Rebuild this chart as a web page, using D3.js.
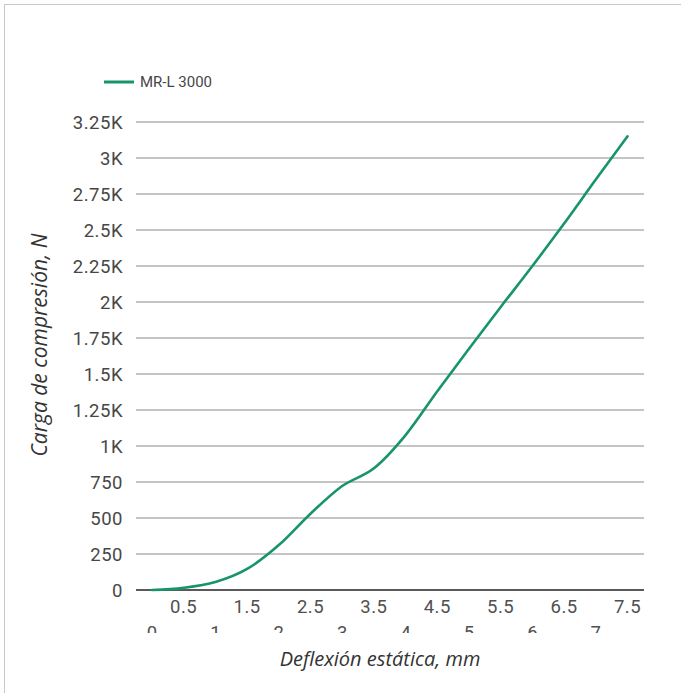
<!DOCTYPE html>
<html>
<head>
<meta charset="utf-8">
<script src="https://cdn.jsdelivr.net/npm/d3@7"></script>
<style>
  body { margin: 0; background: #fff; }
  svg { display: block; }
</style>
</head>
<body>
<svg width="681" height="693"></svg>
<script>
// data
var deflexion = [0, 0.5, 1, 1.5, 2, 2.5, 3, 3.5, 4, 4.5, 5, 5.5, 6, 6.5, 7, 7.5];
var carga = [0, 15, 55, 146, 312, 530, 722, 845, 1076, 1380, 1675, 1965, 2250, 2545, 2850, 3150];
var yTicks = [0, 250, 500, 750, 1000, 1250, 1500, 1750, 2000, 2250, 2500, 2750, 3000, 3250];
var xHalfTicks = [0.5, 1.5, 2.5, 3.5, 4.5, 5.5, 6.5, 7.5];
var xIntTicks = [0, 1, 2, 3, 4, 5, 6, 7];
var serie = "MR-L 3000";

var svg = d3.select("svg");
var green = "#17946b";

svg.append("rect")
    .attr("x", 4.5)
    .attr("y", 4.5)
    .attr("width", 720)
    .attr("height", 720)
    .style("fill", "none")
    .style("stroke", "#c8c8c8");

var x = d3.scaleLinear().domain([0, 7.5]).range([152, 627.5]);
var y = d3.scaleLinear().domain([0, 3250]).range([590, 122]);
var gridLeft = 136, gridRight = 644;

function fmt(v) {
    if (v >= 1000) return (v / 1000) + "K";
    return v;
}

// gridlines
svg.selectAll(".grid")
    .data(yTicks)
    .enter().append("line")
    .attr("class", "grid")
    .attr("x1", gridLeft)
    .attr("x2", gridRight)
    .attr("y1", function(d) { return y(d); })
    .attr("y2", function(d) { return y(d); })
    .style("stroke", function(d) { return d === 0 ? "#5a5a5a" : "#b0b0b0"; })
    .style("stroke-width", function(d) { return d === 0 ? 2 : 1.6; });

// y labels
svg.selectAll(".ylab")
    .data(yTicks)
    .enter().append("text")
    .attr("class", "ylab")
    .attr("x", 123)
    .attr("y", function(d) { return y(d); })
    .attr("dy", "0.36em")
    .attr("text-anchor", "end")
    .style("font-family", "Roboto, sans-serif")
    .style("font-size", "18.5px")
    .style("letter-spacing", "0.5px")
    .style("fill", "#474747")
    .text(fmt);

// x labels, half values
svg.selectAll(".xhalf")
    .data(xHalfTicks)
    .enter().append("text")
    .attr("class", "xhalf")
    .attr("x", function(d) { return x(d); })
    .attr("y", 613)
    .attr("text-anchor", "middle")
    .style("font-family", "Roboto, sans-serif")
    .style("font-size", "18.5px")
    .style("letter-spacing", "0.5px")
    .style("fill", "#505050")
    .text(function(d) { return d; });

// x labels, integers (cut off at the bottom like the original)
svg.append("clipPath")
    .attr("id", "cut")
    .append("rect")
    .attr("x", 0)
    .attr("y", 0)
    .attr("width", 681)
    .attr("height", 633);

svg.append("g")
    .attr("clip-path", "url(#cut)")
    .selectAll(".xint")
    .data(xIntTicks)
    .enter().append("text")
    .attr("class", "xint")
    .attr("x", function(d) { return x(d); })
    .attr("y", 639)
    .attr("text-anchor", "middle")
    .style("font-family", "Roboto, sans-serif")
    .style("font-size", "18.5px")
    .style("fill", "#505050")
    .text(function(d) { return d; });

// the curve
var line = d3.line()
    .x(function(d, i) { return x(deflexion[i]); })
    .y(function(d) { return y(d); })
    .curve(d3.curveMonotoneX);

svg.append("path")
    .datum(carga)
    .attr("d", line)
    .style("fill", "none")
    .style("stroke", green)
    .style("stroke-width", 2.6)
    .style("stroke-linejoin", "round")
    .style("stroke-linecap", "round");

// legend
svg.append("line")
    .attr("x1", 104)
    .attr("x2", 134)
    .attr("y1", 82)
    .attr("y2", 82)
    .style("stroke", green)
    .style("stroke-width", 3);

svg.append("text")
    .attr("x", 140)
    .attr("y", 82)
    .attr("dy", "0.36em")
    .style("font-family", "Roboto, sans-serif")
    .style("font-size", "15px")
    .style("fill", "#474747")
    .text(serie);

// axis titles
svg.append("text")
    .attr("x", 380)
    .attr("y", 666)
    .attr("text-anchor", "middle")
    .style("font-family", "'Open Sans', sans-serif")
    .style("font-style", "italic")
    .style("font-size", "20px")
    .style("fill", "#333")
    .text("Deflexión estática, mm");

svg.append("text")
    .attr("transform", "translate(47,345) rotate(-90)")
    .attr("text-anchor", "middle")
    .style("font-family", "'Open Sans', sans-serif")
    .style("font-style", "italic")
    .style("font-size", "21px")
    .style("fill", "#333")
    .text("Carga de compresión, N");
</script>
</body>
</html>
